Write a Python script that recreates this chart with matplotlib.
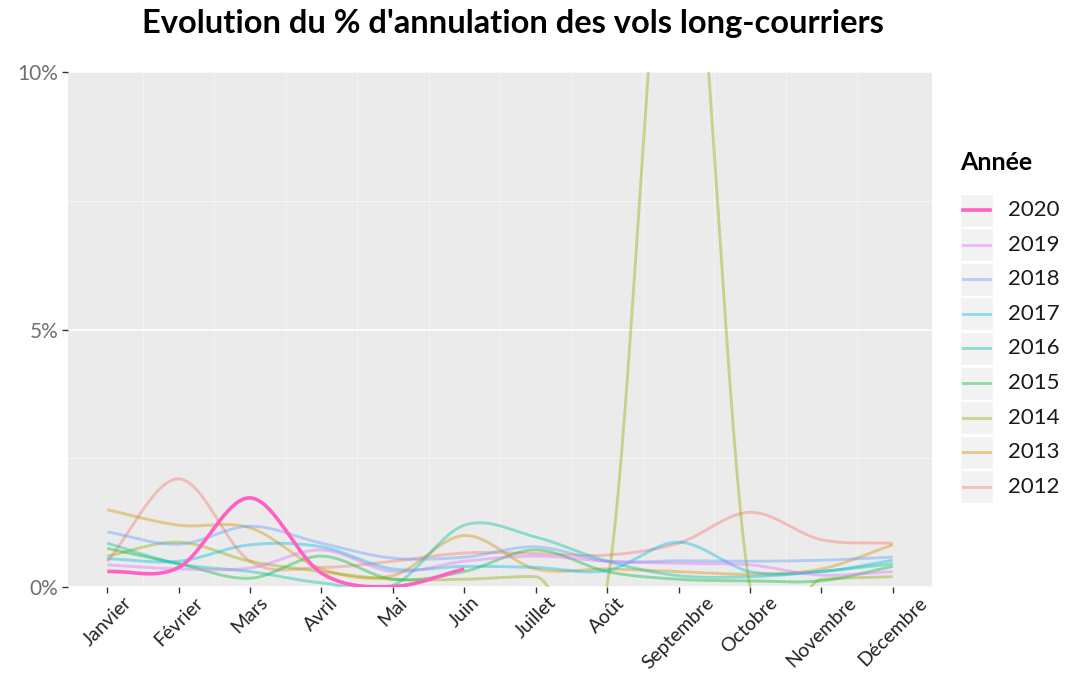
import numpy as np
import matplotlib
matplotlib.use('Agg')
import matplotlib.pyplot as plt
from matplotlib.patches import Rectangle
from matplotlib.lines import Line2D

plt.rcParams['font.family'] = ['Lato', 'DejaVu Sans']

# --- Data (% of cancelled long-haul flights) ---
mois = ['Janvier', 'Février', 'Mars', 'Avril', 'Mai', 'Juin', 'Juillet',
        'Août', 'Septembre', 'Octobre', 'Novembre', 'Décembre']

annees = ['2020', '2019', '2018', '2017', '2016', '2015', '2014', '2013', '2012']

v2020 = [0.30, 0.38, 1.73, 0.27, 0.01, 0.35]
v2019 = [0.43, 0.35, 0.37, 0.72, 0.30, 0.50, 0.60, 0.50, 0.46, 0.43, 0.23, 0.30]
v2018 = [1.07, 0.83, 1.18, 0.85, 0.56, 0.58, 0.78, 0.50, 0.51, 0.50, 0.52, 0.58]
v2017 = [0.55, 0.50, 0.82, 0.78, 0.35, 0.40, 0.38, 0.32, 0.87, 0.30, 0.30, 0.52]
v2016 = [0.85, 0.45, 0.30, 0.08, 0.03, 1.20, 0.97, 0.50, 0.22, 0.20, 0.30, 0.45]
v2015 = [0.75, 0.45, 0.17, 0.60, 0.15, 0.30, 0.72, 0.30, 0.15, 0.12, 0.12, 0.40]
v2014 = [0.60, 0.87, 0.50, 0.30, 0.15, 0.15, 0.20, 0.05, 15.0, 0.02, 0.15, 0.20]
v2013 = [1.50, 1.20, 1.15, 0.35, 0.22, 1.00, 0.35, 0.35, 0.30, 0.25, 0.35, 0.82]
v2012 = [0.50, 2.10, 0.50, 0.38, 0.50, 0.66, 0.65, 0.62, 0.85, 1.45, 0.92, 0.85]

valeurs = [v2020, v2019, v2018, v2017, v2016, v2015, v2014, v2013, v2012]

couleurs = ['#FF61C3', '#DB72FB', '#619CFF', '#00B9E3', '#00C19F',
            '#00BA38', '#93AA00', '#D39200', '#F8766D']


def catmull_rom(y, n=40):
    # interpolating spline through the monthly points
    y = np.asarray(y, dtype=float)
    x = np.arange(1, len(y) + 1)
    m = np.zeros_like(y)
    m[1:-1] = (y[2:] - y[:-2]) / 2
    m[0] = y[1] - y[0]
    m[-1] = y[-1] - y[-2]
    xs, ys = [], []
    t = np.linspace(0, 1, n)
    h00 = 2 * t**3 - 3 * t**2 + 1
    h10 = t**3 - 2 * t**2 + t
    h01 = -2 * t**3 + 3 * t**2
    h11 = t**3 - t**2
    for i in range(len(y) - 1):
        xs.append(x[i] + t)
        ys.append(h00 * y[i] + h10 * m[i] + h01 * y[i + 1] + h11 * m[i + 1])
    return np.concatenate(xs), np.concatenate(ys)


W, H = 1067, 676
fig = plt.figure(figsize=(W / 100, H / 100), dpi=100)
fig.patch.set_facecolor('white')
ax = fig.add_axes([68 / W, 1 - 587 / H, (932 - 68) / W, (587 - 72) / H])
ax.set_facecolor('#EBEBEB')

# grid, ggplot-like
for xm in np.arange(1.5, 12, 1):
    ax.axvline(xm, color='#F4F4F4', lw=0.6, zorder=0)
for yv in [2.5, 7.5]:
    ax.axhline(yv, color='#F7F7F7', lw=0.6, zorder=0)
for yv in [0, 5, 10]:
    ax.axhline(yv, color='white', lw=1.1, zorder=0)

# older years first, 2020 on top
for annee, vals, col in list(zip(annees, valeurs, couleurs))[::-1]:
    xs, ys = catmull_rom(vals)
    if annee == '2020':
        ax.plot(xs, ys, color=col, lw=2.6, zorder=5, solid_capstyle='butt')
    else:
        ax.plot(xs, ys, color=col, lw=2.1, alpha=0.4, zorder=3, solid_capstyle='butt')

ax.set_xlim(1 - 0.55, 12 + 0.55)
ax.set_ylim(0, 10)
ax.set_xticks(np.arange(1, 13))
ax.set_xticklabels(mois, rotation=45, ha='center', va='top', fontsize=14, color='#222222')
ax.set_yticks([0, 5, 10])
ax.set_yticklabels(['0%', '5%', '10%'], fontsize=15, color='#707070')
ax.tick_params(axis='y', length=4, width=1, color='#333333', pad=3)
ax.tick_params(axis='x', length=4, width=1, color='#333333', pad=1)
for s in ax.spines.values():
    s.set_visible(False)

fig.text(513 / W, 1 - 24 / H, "Evolution du % d'annulation des vols long-courriers",
         ha='center', va='center', fontsize=23.5, fontweight='bold', color='black')

# legend drawn by hand (ggplot style keys)
fig.text(960 / W, 1 - 163 / H, 'Année', ha='left', va='center', fontsize=18,
         fontweight='bold', color='black')
for i, (annee, col) in enumerate(zip(annees, couleurs)):
    yc = 210 + i * 34.6
    fig.add_artist(Rectangle((960 / W, 1 - (yc + 16.5) / H), 33 / W, 33 / H,
                             transform=fig.transFigure, facecolor='#F2F2F2',
                             edgecolor='white', lw=1))
    a = 1.0 if annee == '2020' else 0.4
    lw = 2.6 if annee == '2020' else 2.1
    fig.add_artist(Line2D([963 / W, 990 / W], [1 - yc / H, 1 - yc / H],
                          transform=fig.transFigure, color=col, alpha=a, lw=lw))
    fig.text(1008 / W, 1 - yc / H, annee, ha='left', va='center', fontsize=16,
             color='#1a1a1a')

fig.savefig('out.png', dpi=100)
